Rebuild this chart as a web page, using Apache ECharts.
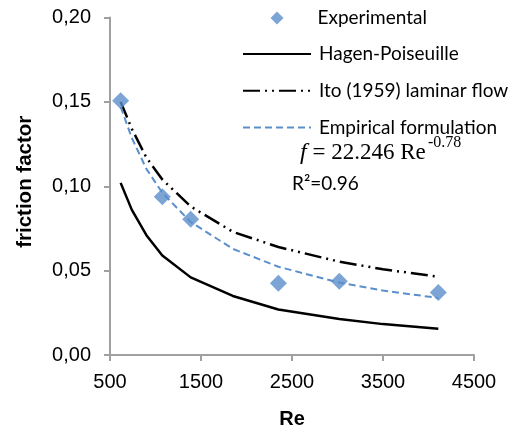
<!DOCTYPE html>
<html>
<head>
<meta charset="utf-8">
<script src="https://cdn.jsdelivr.net/npm/echarts@6/dist/echarts.min.js"></script>
<style>
  html, body { margin: 0; padding: 0; background: #fff; }
  #chart { width: 525px; height: 430px; }
</style>
</head>
<body>
<div id="chart"></div>
<script>
// values
var expRe = [617, 1075, 1387, 2350, 3020, 4108];
var expF = [0.1507, 0.0938, 0.0804, 0.0425, 0.0437, 0.0371];

var lineRe = [617, 740, 900, 1075, 1387, 1850, 2350, 3020, 3500, 4108];
var hagenF = [0.102, 0.086, 0.071, 0.059, 0.046, 0.035, 0.027, 0.0213, 0.0183, 0.0155];
var itoF = [0.150, 0.134, 0.117, 0.104, 0.088, 0.073, 0.064, 0.0553, 0.0508, 0.0464];
var empF = [0.147, 0.1286, 0.1103, 0.0961, 0.0788, 0.0629, 0.0523, 0.0429, 0.0382, 0.0338];

var xTicks = [500, 1500, 2500, 3500, 4500];
var yTicks = [0, 0.05, 0.10, 0.15, 0.20];

var BLUE = "#5b8fcc";
var AXIS = "#a0a0a0";
var NOFILL = { color: "rgba(0,0,0,0)", borderWidth: 0 };

function pairs(xs, ys) {
    return xs.map(function (x, i) { return [x, ys[i]]; });
}

var chart = echarts.init(document.getElementById("chart"));

var legendText = { fontFamily: "Lato", fontSize: 19, color: "#000", lineHeight: 20 };

var option = {
    animation: false,
    backgroundColor: "#fff",
    textStyle: { fontFamily: "Liberation Sans" },
    grid: { left: 110, right: 51, top: 17.5, bottom: 75, containLabel: false, outerBoundsMode: "none" },
    legend: [
        {
            // diamond entry on its own so the icon stays square
            orient: "vertical",
            left: 270.5,
            top: 8,
            padding: 0,
            itemWidth: 13,
            itemHeight: 13,
            data: ["Experimental"],
            textStyle: Object.assign({ padding: [0, 0, 0, 29] }, legendText)
        },
        {
            orient: "vertical",
            left: 242,
            top: 44,
            padding: 0,
            itemWidth: 68,
            itemHeight: 13,
            itemGap: 16.8,
            data: [
                { name: "Hagen-Poiseuille", itemStyle: NOFILL },
                { name: "Ito (1959) laminar flow", itemStyle: NOFILL },
                { name: "Empirical formulation", itemStyle: NOFILL }
            ],
            textStyle: Object.assign({ padding: [0, 0, 0, 3] }, legendText)
        }
    ],
    xAxis: {
        type: "value",
        min: xTicks[0],
        max: xTicks[xTicks.length - 1],
        interval: 1000,
        name: "Re",
        nameLocation: "middle",
        nameGap: 54,
        nameTextStyle: { fontSize: 20, fontWeight: "bold", color: "#000", fontFamily: "Liberation Sans" },
        splitLine: { show: false },
        axisLine: { lineStyle: { color: AXIS, width: 2 } },
        axisTick: { show: true, length: 6, lineStyle: { color: AXIS, width: 2 } },
        axisLabel: {
            fontSize: 20, color: "#000", margin: 17,
            formatter: function (v) { return String(v); }
        }
    },
    yAxis: {
        type: "value",
        min: yTicks[0],
        max: yTicks[yTicks.length - 1],
        interval: 0.05,
        name: "friction factor",
        nameLocation: "middle",
        nameGap: 74,
        nameRotate: 90,
        nameTextStyle: { fontSize: 20.5, fontWeight: "bold", color: "#000", fontFamily: "Liberation Sans", padding: [0, 0, 0, 9] },
        splitLine: { show: false },
        axisLine: { show: true, lineStyle: { color: AXIS, width: 2 } },
        axisTick: { show: true, length: 6, lineStyle: { color: AXIS, width: 2 } },
        axisLabel: {
            fontSize: 20, color: "#000", margin: 19,
            formatter: function (v) { return v.toFixed(2).replace(".", ","); }
        }
    },
    series: [
        {
            name: "Hagen-Poiseuille",
            type: "line",
            data: pairs(lineRe, hagenF),
            symbol: "none",
            lineStyle: { color: "#000", width: 2.5 },
            itemStyle: { color: "#000" },
            z: 2
        },
        {
            name: "Ito (1959) laminar flow",
            type: "line",
            data: pairs(lineRe, itoF),
            symbol: "none",
            lineStyle: { color: "#000", width: 2.5, type: [17, 5, 2, 5, 2, 5] },
            itemStyle: { color: "#000" },
            z: 2
        },
        {
            name: "Empirical formulation",
            type: "line",
            data: pairs(lineRe, empF),
            symbol: "none",
            lineStyle: { color: BLUE, width: 2, type: [7, 4] },
            itemStyle: { color: BLUE },
            z: 3
        },
        {
            name: "Experimental",
            type: "scatter",
            data: pairs(expRe, expF),
            symbol: "diamond",
            symbolSize: 17,
            itemStyle: { color: BLUE },
            z: 4
        }
    ],
    graphic: [
        {
            type: "text",
            left: 300,
            top: 141,
            style: {
                text: "{f|f}{n| = 22.246 Re}",
                rich: {
                    f: { fontFamily: "Liberation Serif", fontStyle: "italic", fontSize: 24, fill: "#000" },
                    n: { fontFamily: "Liberation Serif", fontSize: 23, fill: "#000" }
                }
            }
        },
        {
            type: "text",
            left: 428,
            top: 135,
            style: { text: "-0.78", fontFamily: "Liberation Serif", fontSize: 16, fill: "#000" }
        },
        {
            type: "text",
            left: 292,
            top: 174,
            style: { text: "R\u00b2=0.96", fontFamily: "Lato", fontSize: 19, fill: "#000" }
        }
    ]
};

chart.setOption(option);
</script>
</body>
</html>
